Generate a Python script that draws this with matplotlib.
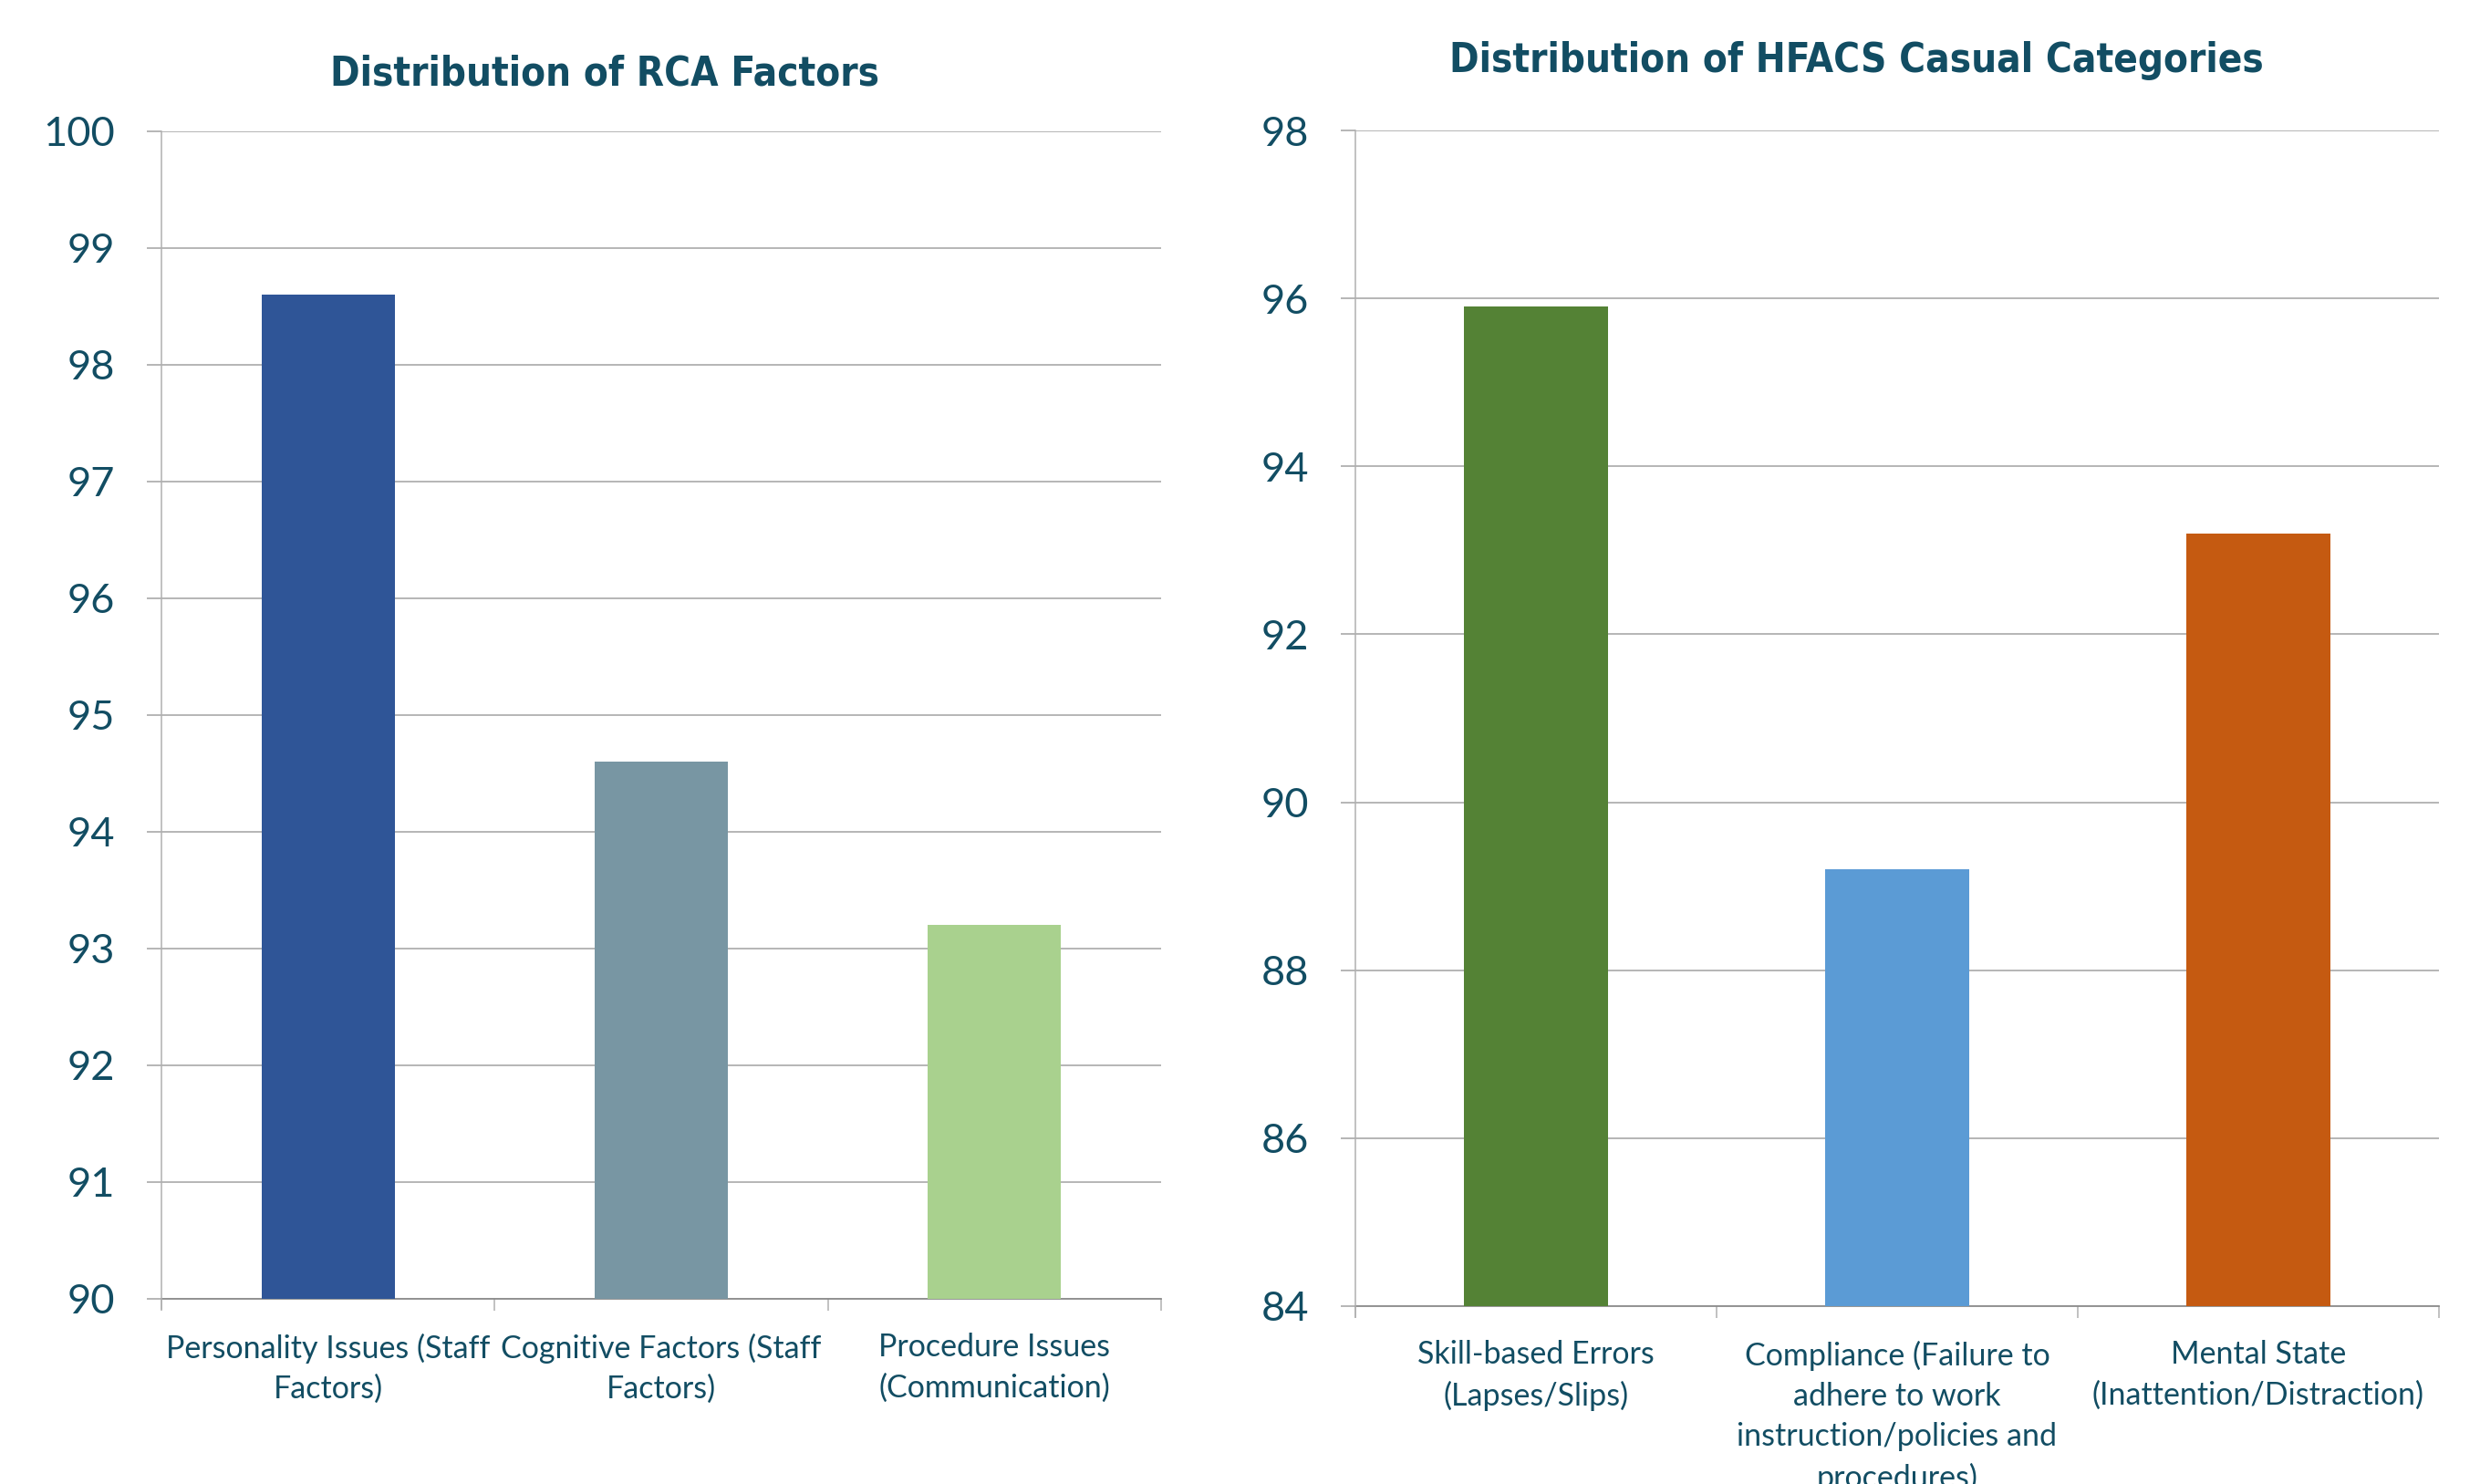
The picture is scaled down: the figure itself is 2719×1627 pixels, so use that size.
import matplotlib
matplotlib.use("Agg")
import matplotlib.pyplot as plt
from matplotlib import font_manager

TEXT_COLOR = "#124D63"
GRID_COLOR = "#B0B0B0"

rca_labels = [
	"Personality Issues (Staff\nFactors)",
	"Cognitive Factors (Staff\nFactors)",
	"Procedure Issues\n(Communication)",
]
rca_values = [98.6, 94.6, 93.2]
rca_colors = ["#2F5597", "#7896A3", "#A9D18E"]
rca_ticks = [90, 91, 92, 93, 94, 95, 96, 97, 98, 99, 100]

hfacs_labels = [
	"Skill-based Errors\n(Lapses/Slips)",
	"Compliance (Failure to\nadhere to work\ninstruction/policies and\nprocedures)",
	"Mental State\n(Inattention/Distraction)",
]
hfacs_values = [95.9, 89.2, 93.2]
hfacs_colors = ["#548235", "#5B9BD5", "#C55A11"]
hfacs_ticks = [84, 86, 88, 90, 92, 94, 96, 98]

names = {f.name for f in font_manager.fontManager.ttflist}
body_font = "Lato" if "Lato" in names else "DejaVu Sans"


def draw_panel(fig, rect, labels, values, colors, ticks, title, title_xy):
	ax = fig.add_axes(rect)
	x = list(range(len(values)))
	ax.bar(x, values, width=0.4, color=colors, zorder=3, bottom=0)
	ax.set_xlim(-0.5, len(values) - 0.5)
	ax.set_ylim(ticks[0], ticks[-1])
	ax.set_yticks(ticks)
	ax.set_yticklabels([str(t) for t in ticks], fontsize=32.5, color=TEXT_COLOR, family=body_font)
	ax.yaxis.grid(True, color=GRID_COLOR, linewidth=1.3, zorder=0)
	ax.tick_params(axis="y", length=11.5, width=1.3, color=GRID_COLOR, pad=25)
	# category boundary ticks on the x axis, labels at the centres
	ax.set_xticks([i - 0.5 for i in range(len(values) + 1)])
	ax.set_xticklabels([])
	ax.set_xticks(x, minor=True)
	ax.set_xticklabels(labels, minor=True, fontsize=24.5, color=TEXT_COLOR,
		family=body_font, linespacing=1.47)
	ax.tick_params(axis="x", which="major", length=9, width=1.1, color=GRID_COLOR)
	ax.tick_params(axis="x", which="minor", length=0, pad=27)
	for side in ["top", "right"]:
		ax.spines[side].set_visible(False)
	ax.spines["left"].set_color(GRID_COLOR)
	ax.spines["left"].set_linewidth(1.1)
	ax.spines["left"].set_bounds(ticks[0] - (ticks[-1] - ticks[0]) * 0.009, ticks[-1])
	ax.spines["bottom"].set_color("#8C8C8C")
	ax.spines["bottom"].set_linewidth(1.3)
	ax.spines["left"].set_zorder(4)
	ax.spines["left"].set_clip_on(False)
	fig.text(title_xy[0], title_xy[1], title, ha="center", va="center", fontsize=31.5,
		color=TEXT_COLOR, family="DejaVu Sans", fontstretch="condensed", fontweight="bold")
	return ax


fig = plt.figure(figsize=(27.19, 16.27), dpi=100)
draw_panel(fig, [0.0651, 0.1248, 0.4031, 0.7867], rca_labels, rca_values, rca_colors,
	rca_ticks, "Distribution of RCA Factors", (0.2438, 0.950))
draw_panel(fig, [0.5465, 0.1199, 0.4369, 0.7922], hfacs_labels, hfacs_values, hfacs_colors,
	hfacs_ticks, "Distribution of HFACS Casual Categories", (0.7484, 0.959))
fig.savefig("out.png", dpi=100)
